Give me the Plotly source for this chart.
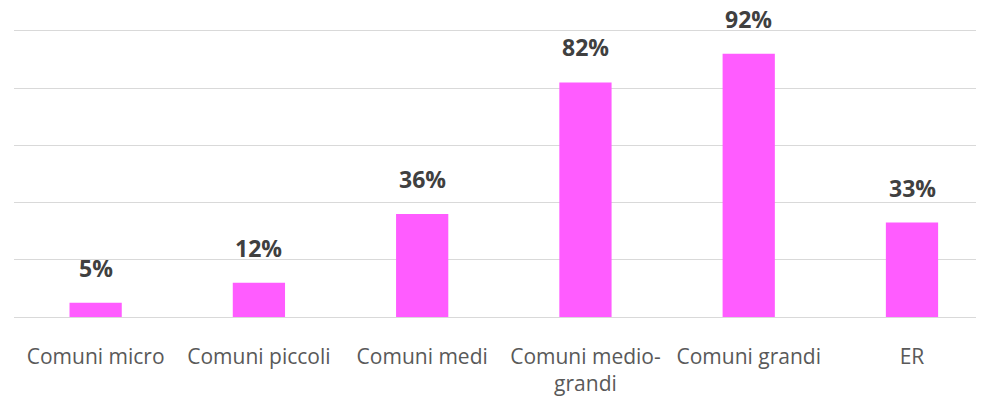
import plotly.graph_objects as go

# Share of municipalities by size class
categories = ["Comuni micro", "Comuni piccoli", "Comuni medi", "Comuni medio-<br>grandi", "Comuni grandi", "ER"]
values = [5, 12, 36, 82, 92, 33]
value_labels = ["5%", "12%", "36%", "82%", "92%", "33%"]

BAR_COLOR = "#FF5CFF"
GRID = "#d9d9d9"
TEXT_DARK = "#404040"
TEXT_MUTED = "#595959"

fig = go.Figure()
fig.add_trace(go.Bar(
    x=list(range(len(categories))),
    y=values,
    width=0.32,
    marker=dict(color=BAR_COLOR, line=dict(width=0)),
    hoverinfo="skip",
))

# value labels sit a little higher above the bars than plotly's outside text
for i, (v, lab) in enumerate(zip(values, value_labels)):
    fig.add_annotation(
        x=i, y=v, text=f"<b>{lab}</b>", showarrow=False,
        yanchor="bottom", yshift=18, borderpad=0,
        font=dict(family="Open Sans", size=23, color=TEXT_DARK),
    )

fig.update_layout(
    width=984,
    height=404,
    paper_bgcolor="white",
    plot_bgcolor="white",
    showlegend=False,
    margin=dict(l=6, r=0, t=0, b=95),
    font=dict(family="Open Sans", color=TEXT_MUTED, size=21),
    xaxis=dict(
        tickmode="array",
        tickvals=list(range(len(categories))),
        ticktext=categories,
        range=[-0.5, 5.49],
        showgrid=False,
        showline=False,
        zeroline=False,
        ticks="",
        ticklabelstandoff=25,
        tickfont=dict(size=21, color=TEXT_MUTED),
    ),
    yaxis=dict(
        range=[0, 108],
        tickvals=[0, 20, 40, 60, 80, 100],
        showticklabels=False,
        gridcolor=GRID,
        gridwidth=1,
        zeroline=True,
        zerolinecolor=GRID,
        zerolinewidth=1,
        showline=False,
    ),
)

fig.write_html("out.html")
